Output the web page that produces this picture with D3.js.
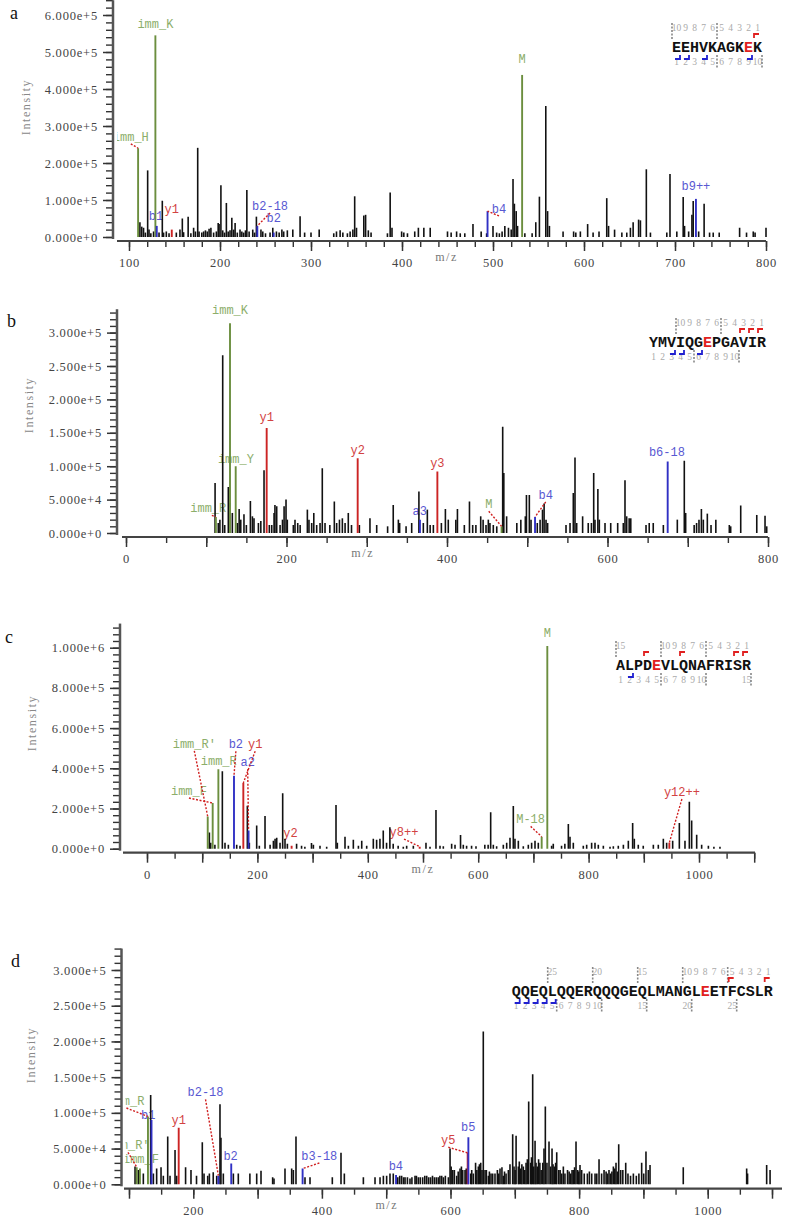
<!DOCTYPE html>
<html>
<head>
<meta charset="utf-8">
<script src="https://cdn.jsdelivr.net/npm/d3@7"></script>
<style>
body { margin: 0; background: #fff; }
svg { display: block; }
</style>
</head>
<body>
<svg id="chart" width="787" height="1218"></svg>
<script>
// ---- panel a : EEHVKAGKEK ----
var pepA = "EEHVKAGKEK", modA = 8, yHitsA = [1], bHitsA = [1, 2, 4, 9];
var yTicksA = [0, 1e5, 2e5, 3e5, 4e5, 5e5, 6e5];
var xTicksA = [100, 200, 300, 400, 500, 600, 700, 800];
var peaksA = [
[112,4.0e4],[114,2.8e4],[116,2.5e4],[118,1.2e4],[120.5,1.8e5],[122,2.0e4],[124,1.0e4],[127,1.5e4],[133,1.2e4],[136.6,9.8e4],[138,1.2e4],[141,1.5e4],[144,1.0e4],[152,1.2e4],[156,2.0e4],[158.6,5.0e4],[160,1.3e4],[165,5.5e4],[168,1.0e4],[171,2.5e4],[173,1.5e4],[175.5,2.41e5],[177,1.5e4],[180,1.2e4],[182,1.5e4],[184,1.8e4],[186,1.5e4],[188,2.2e4],[190,2.5e4],[193,1.2e4],[196,1.5e4],[198,3.8e4],[199,3.5e4],[201,1.4e5],[203,1.8e4],[205,1.2e4],[207,9.2e4],[209,1.5e4],[211,1.8e4],[213,5.2e4],[215,2.0e4],[216.6,3.8e4],[219,1.2e4],[222,2.0e4],[224,1.5e4],[226,1.2e4],[228,1.8e4],[229.5,1.27e5],[232,1.5e4],[236,2.0e4],[238,1.2e4],[240,5.5e4],[245,2.0e4],[247,1.5e4],[250,1.0e4],[255,1.2e4],[258,2.5e4],[262,1.5e4],[265,1.2e4],[268,2.0e4],[270,1.5e4],[274,1.8e4],[280,2.0e4],[288,5.6e4],[293,1.2e4],[300,1.2e4],[309,2.0e4],[325,1.0e4],[328,1.5e4],[332,1.8e4],[335,1.2e4],[340,1.0e4],[343,1.5e4],[346,2.0e4],[348,1.1e5],[350,2.5e4],[358,5.8e4],[360,6.0e4],[363,1.8e4],[366,1.2e4],[384,1.0e4],[387,1.2e5],[389,2.5e4],
[399.6,1.5e4],[402,1.2e4],[406,1.0e4],[414,1.5e4],[418,2.5e4],[424,2.5e4],[431,2.5e4],[450,1.5e4],[454,1.2e4],[460,1.5e4],[464,1.0e4],[469,1.0e4],[478,3.5e4],[487,1.5e4],[493,1.0e4],[500,3.0e4],[504,1.2e4],[507,1.0e4],[510,1.5e4],[513,3.0e4],[517,2.5e4],[520,2.0e4],[522,1.57e5],[523.5,9.0e4],[525.5,7.0e4],[527,3.0e4],[535,1.0e4],[543,1.0e4],[547,4.0e4],[551,1.09e5],[558,3.54e5],[560,7.0e4],[562,3.0e4],[577,1.5e4],[588.6,1.5e4],[591,1.2e4],[596,1.5e4],[604,3.5e4],[610,1.2e4],[616.5,1.5e4],[625,1.05e5],[627,3.0e4],[633.6,2.0e4],[641.6,1.2e4],[647,1.2e4],[651,2.5e4],[654,4.0e4],[660,4.7e4],[662,4.5e4],[668.5,1.83e5],[673,1.2e4],[691,1.2e4],[694.5,1.7e5],[702,1.5e4],[709,1.08e5],[710.5,3.0e4],[715,1.5e4],[718.6,6.0e4],[720,9.7e4],[726,1.5e4],[732,9.0e4],[738,1.2e4],[742,1.2e4],[748.6,1.2e4],[771,2.5e4],[778.6,1.2e4],[786,1.5e4],[788,1.2e4],[800,2.5e4]
];
// [m/z, intensity, label, kind, label m/z, label intensity, leader]
var annA = [
[110, 2.4e5, "imm_H", "g", 102, 2.6e5, 1],
[129, 5.45e5, "imm_K", "g", 129, 5.65e5, 0],
[130.5, 3.0e4, "b1", "b", 129.7, 4.5e4, 0],
[147, 2.0e4, "y1", "y", 147, 6.5e4, 0],
[241, 3.0e4, "b2-18", "b", 255, 7.3e4, 1],
[259, 1.2e4, "b2", "b", 259, 4.0e4, 0],
[494, 7.0e4, "b4", "b", 506.6, 6.5e4, 1],
[532, 4.38e5, "M", "g", 532, 4.7e5, 0],
[723, 1.03e5, "b9++", "b", 723, 1.27e5, 0]
];

// ---- panel b : YMVIQGEPGAVIR ----
var pepB = "YMVIQGEPGAVIR", modB = 6, yHitsB = [1, 2, 3], bHitsB = [3, 4, 6];
var yTicksB = [0, 5e4, 1e5, 1.5e5, 2e5, 2.5e5, 3e5];
var xTicksB = [0, 200, 400, 600, 800];
var peaksB = [
[111,7.5e4],[115,1.5e4],[117,2.0e4],[120.5,2.66e5],[123,1.2e4],[127.5,6.9e4],[132.5,3.0e4],[138.8,1.5e4],[141,3.6e4],[143,2.0e4],[147,2.8e4],[150,1.2e4],[155,4.8e4],[157.5,2.5e4],[159.5,2.2e4],[165,1.5e4],[168,1.8e4],[172,9.4e4],[178.6,1.2e4],[181.6,1.2e4],[184.5,3.0e4],[185.6,4.2e4],[187.8,4.0e4],[192,1.2e4],[195,2.0e4],[197,4.0e4],[199.4,5.0e4],[201,2.0e4],[208.5,1.2e4],[210.6,2.0e4],[214,1.5e4],[217,1.2e4],[226,3.5e4],[228,2.0e4],[231.4,1.5e4],[234,3.0e4],[237.6,1.2e4],[241.8,1.5e4],[244.6,9.7e4],[248,1.5e4],[254,1.2e4],[259.6,4.7e4],[262.5,1.5e4],[266,2.0e4],[269.6,2.2e4],[273,1.5e4],[277,3.0e4],[281,1.2e4],[290.8,1.2e4],[304,2.2e4],[312.4,1.2e4],[326,1.0e4],[333,4.2e4],[339.4,2.0e4],
[341,1.5e4],[349,1.0e4],[356,1.5e4],[365,6.2e4],[370.5,1.5e4],[375.5,3.5e4],[379,1.2e4],[383,1.2e4],[393,1.5e4],[398,3.6e4],[401.6,2.0e4],[411,2.0e4],[413,3.6e4],[421.6,1.2e4],[428,4.7e4],[432,1.2e4],[436,1.2e4],[442,2.5e4],[445,2.0e4],[448.6,1.2e4],[451.5,2.0e4],[453.5,1.5e4],[457.7,1.2e4],[462,1.0e4],[469.4,1.59e5],[470.8,9.0e4],[474.3,2.5e4],[487,1.5e4],[492,2.0e4],[497.6,2.5e4],[499,5.7e4],[502.6,5.7e4],[504.7,2.0e4],[512.5,1.5e4],[516,2.0e4],[519,3.5e4],[521,4.4e4],[523.4,2.0e4],[525.4,1.5e4],[548.3,1.2e4],[553.3,1.5e4],[557.4,6.0e4],[559.5,1.13e5],[561.6,1.5e4],[569,2.5e4],[576,1.5e4],[580,1.5e4],[582.8,9.0e4],[584.4,2.0e4],[588,6.6e4],[589.8,2.0e4],[596.9,1.5e4],[604,1.5e4],[612.7,1.5e4],[619.7,1.5e4],[621.8,7.9e4],[623.9,2.5e4],[627,2.2e4],[629,2.2e4],[648,1.2e4],[652,1.5e4],[657,1.5e4],[669.6,1.2e4],[687,2.0e4],[695.7,1.08e5],[697.4,3.0e4],[708,1.2e4],[711,1.5e4],[714,2.0e4],[717,3.6e4],[719.4,2.0e4],[724.4,2.9e4],[729,1.2e4],[735,2.0e4],[751.8,1.2e4],[753.5,1.0e4],[766,4.1e4],[786,2.7e4],[796.3,2.6e4],[798.4,1.0e4]
];
var annB = [
[112, 2.4e4, "imm_R'", "g", 107, 3.1e4, 1],
[129.6, 3.14e5, "imm_K", "g", 129.6, 3.28e5, 0],
[136.7, 1.0e5, "imm_Y", "g", 137, 1.05e5, 0],
[175.3, 1.57e5, "y1", "y", 175.3, 1.68e5, 0],
[288.7, 1.12e5, "y2", "y", 288.7, 1.18e5, 0],
[366.3, 2.0e4, "a3", "b", 366, 2.7e4, 0],
[388, 9.2e4, "y3", "y", 388, 9.9e4, 0],
[468, 1.0e4, "M", "g", 452, 3.7e4, 1],
[509.7, 2.4e4, "b4", "b", 523, 5.1e4, 1],
[675, 1.07e5, "b6-18", "b", 674, 1.15e5, 0]
];

// ---- panel c : ALPDEVLQNAFRISR ----
var pepC = "ALPDEVLQNAFRISR", modC = 4, yHitsC = [1, 2, 8, 12], bHitsC = [2];
var yTicksC = [0, 2e5, 4e5, 6e5, 8e5, 1e6];
var xTicksC = [0, 200, 400, 600, 800, 1000];
var peaksC = [
[113,8.0e4],[115.4,3.0e4],[123,2.0e4],[136.5,3.85e5],[141.3,3.0e4],[147.4,2.0e4],[162.5,2.0e4],[168.5,1.5e4],[181.8,2.14e5],[185.4,3.0e4],[198.7,1.15e5],[203.5,1.5e4],[213.8,1.63e5],[223,2.0e4],[229,4.0e4],[232,5.0e4],[235,5.5e4],[241,3.0e4],[245.8,2.76e5],[250,5.0e4],[254.3,2.5e4],[271,2.5e4],[280,1.5e4],[286,1.0e4],[298,2.8e4],[301.4,2.0e4],[313.4,1.5e4],[325.5,1.0e4],[342.4,2.17e5],[344.8,3.0e4],[358.7,6.0e4],[364.8,1.5e4],[373.8,4.5e4],[383,1.5e4],[389,4.0e4],[398,1.5e4],[410,5.0e4],[416,4.5e4],[422,5.0e4],[428,9.0e4],[434,3.0e4],[440,1.07e5],[446,2.5e4],[455,1.5e4],
[464.3,1.0e4],[470.4,1.5e4],[482.5,1.5e4],[505.4,3.0e4],[512.7,1.0e4],[523.5,1.93e5],[530.8,1.5e4],[536.8,1.2e4],[551.9,2.5e4],[558,2.0e4],[568,6.8e4],[573,2.0e4],[579,1.5e4],[588,1.5e4],[596,1.2e4],[612,2.0e4],[618,2.0e4],[622.6,1.81e5],[627.4,2.0e4],[633.4,1.2e4],[645.5,2.0e4],[651.6,3.0e4],[657.6,5.5e4],[663.6,2.12e5],[666.6,5.0e4],[672.7,4.0e4],[681.7,1.2e4],[690.8,2.0e4],[696.8,3.0e4],[702.9,4.0e4],[708.9,3.0e4],[733,1.5e4],[736,2.5e4],[751,1.5e4],[757,2.5e4],[763.3,1.23e5],[766.3,6.0e4],[772.3,3.0e4],[790.4,1.5e4],[796.5,2.0e4],[805.5,3.0e4],[811.6,3.0e4],[817.6,2.0e4],[826.7,1.5e4],[838.8,1.0e4],[844.8,1.2e4],[853.8,1.5e4],[863,2.0e4],[872,4.0e4],[879.8,1.28e5],[882.8,5.0e4],[890,2.0e4],[899,1.5e4],[917.3,2.0e4],[926.3,2.0e4],[935.4,5.0e4],[941.4,3.0e4],[952.3,4.0e4],[964.4,1.28e5],[974.6,4.0e4],[982.5,2.34e5],[986.7,1.4e5],[995.8,7.0e4],[1004.8,2.0e4],[1017,1.5e4],[1027,1.0e4],[1038,1.0e4]
];
var annC = [
[110, 1.6e5, "imm_R'", "g", 85.7, 5.02e5, 1],
[119, 2.27e5, "imm_F", "g", 76, 2.67e5, 1],
[129.3, 3.95e5, "imm_R", "g", 130, 4.17e5, 0],
[157.6, 3.63e5, "b2", "b", 161, 5.0e5, 1],
[174.5, 3.27e5, "y1", "y", 196, 5.0e5, 1],
[184, 9.0e4, "a2", "b", 182.4, 4.1e5, 1],
[262, 1.5e4, "y2", "y", 260, 5.8e4, 0],
[494, 1.0e4, "y8++", "y", 465.6, 6.3e4, 1],
[715, 6.0e4, "M-18", "g", 695, 1.26e5, 1],
[725.2, 1.008e6, "M", "g", 725.2, 1.055e6, 0],
[946.3, 3.0e4, "y12++", "y", 969, 2.62e5, 1]
];

// ---- panel d : QQEQLQQERQQQGEQLMANGLEETFCSLR ----
var pepD = "QQEQLQQERQQQGEQLMANGLEETFCSLR", modD = 21, yHitsD = [1, 5], bHitsD = [1, 2, 3, 4, 5];
var yTicksD = [0, 5e4, 1e5, 1.5e5, 2e5, 2.5e5, 3e5];
var xTicksD = [200, 400, 600, 800, 1000];
var peaksD = [
[109.4,2.5e4],[114.5,2.0e4],[122.3,1.5e4],[133.7,1.25e5],[137.9,1.5e4],[143,2.2e4],[149.8,2.4e4],[153.4,1.2e4],[160.2,6.7e4],[163.8,1.2e4],[171.6,4.8e4],[174.2,1.2e4],[188,2.4e4],[196.4,2.0e4],[205,1.2e4],[214,5.9e4],[216.7,1.5e4],[222.4,1.2e4],[225,1.5e4],[231,1.7e4],[236.4,1.2e4],[241.5,1.12e5],[243,6.5e4],[246.7,1.5e4],[262.3,1.5e4],[270,1.5e4],[288,1.5e4],[298.6,1.5e4],[305.3,1.9e4],[323.4,1.0e4],[325.5,8.0e3],[342.6,2.2e4],[353,2.2e4],[355.6,2.0e4],[359.7,6.7e4],[373.7,1.0e4],[381.5,1.0e4],[416.2,1.0e4],[429.7,4.4e4],[434.9,1.5e4],[464.5,1.0e4],[482.6,1.0e4],[490.4,1.0e4],[495.6,1.2e4],[500.7,1.2e4],[505.9,1.5e4],[511,1.5e4],
[518,1.0e4],[521,1.2e4],[524,1.2e4],[527,1.0e4],[529.3,1.0e4],[533,1.0e4],[537,8.0e3],[540,1.0e4],[544.8,1.2e4],[547,1.2e4],[550,1.0e4],[553,1.0e4],[556.7,1.0e4],[560,1.2e4],[563,1.2e4],[566,1.0e4],[569,1.0e4],[572,1.2e4],[575,1.0e4],[578,1.0e4],[581,1.0e4],[583.5,1.2e4],[586.3,1.2e4],[589,1.0e4],[592,1.2e4],[596.7,1.0e4],[599.3,5.0e4],[601,2.5e4],[603.4,2.0e4],[606,2.0e4],[609.6,1.2e4],[612,1.8e4],[614.8,2.2e4],[617,2.5e4],[619,2.0e4],[622.6,2.0e4],[624.5,2.2e4],[631.4,1.5e4],[633,2.0e4],[635.5,1.5e4],[639,3.0e4],[641,2.0e4],[643.3,2.5e4],[645,2.8e4],[647,3.0e4],[649,2.0e4],[651,2.14e5],[653.7,2.0e4],[655.8,2.0e4],[658.9,1.2e4],[660.5,1.8e4],[663,1.5e4],[665.6,1.5e4],[669.2,1.5e4],[672.9,2.0e4],[675,1.5e4],[677,2.2e4],[680,2.4e4],[682.2,1.2e4],[684,1.8e4],[686.4,1.5e4],[690,2.0e4],[692.5,2.8e4],[696.7,7.0e4],[698.8,2.5e4],[700.5,2.0e4],[702,6.8e4],[705.5,2.5e4],[707,3.2e4],[709.2,2.2e4],[711,2.8e4],[713.3,2.5e4],[715.5,2.0e4],[717.5,3.0e4],[719.5,3.5e4],[721.6,1.16e5],[724.7,3.0e4],[726,3.8e4],[727.8,1.54e5],[729.5,2.5e4],[731.5,6.1e4],[733,3.0e4],[735,2.5e4],[737,3.5e4],[739,3.0e4],[741,2.0e4],[743.5,3.0e4],[745.4,5.0e4],[747.5,1.09e5],[750,3.0e4],[753.2,6.0e4],[755.8,2.5e4],[757.9,5.0e4],[759.5,2.8e4],[761.5,2.5e4],[763.5,3.0e4],[765.2,4.5e4],[768.3,2.0e4],[770.5,2.0e4],[773,1.5e4],[775.5,2.5e4],[778,1.5e4],[782,2.0e4],[784.5,1.8e4],[787,1.5e4],[789,2.0e4],[791,2.0e4],[793,2.4e4],[795.2,6.0e4],[797.8,2.0e4],[799.5,1.8e4],[801.4,2.7e4],[804,2.0e4],[808,1.5e4],[812.9,1.5e4],[816,1.8e4],[819.6,1.5e4],[824.8,1.5e4],[827.5,1.5e4],[831,3.5e4],[835,1.5e4],[838.8,2.0e4],[842,1.8e4],[844,1.5e4],[846.5,2.0e4],[849,1.5e4],[851,1.8e4],[853.3,2.5e4],[855.5,2.2e4],[857.4,3.0e4],[859.5,1.8e4],[861.6,5.6e4],[864.7,2.0e4],[868,2.0e4],[872.5,3.0e4],[876,1.5e4],[880,1.2e4],[884.4,1.5e4],[889,1.2e4],[893,1.5e4],[897.3,3.0e4],[900.5,1.5e4],[904,4.6e4],[907.7,2.0e4],[910.3,2.7e4],[962,2.4e4],[1060.6,2.2e4],[1062,1.5e4],[1091.7,2.7e4],[1097,2.0e4]
];
var annD = [
[129.5, 9.5e4, "imm_R", "g", 96, 1.11e5, 1],
[135, 9.0e4, "b1", "b", 130, 9.2e4, 0],
[112, 2.4e4, "imm_R'", "g", 98.4, 4.9e4, 1],
[117, 2.2e4, "imm_F", "g", 118.6, 3.0e4, 0],
[177.3, 7.9e4, "y1", "y", 177.3, 8.5e4, 0],
[239, 1.2e4, "b2-18", "b", 219, 1.23e5, 1],
[259, 2.9e4, "b2", "b", 258, 3.4e4, 0],
[370, 2.2e4, "b3-18", "b", 396, 3.4e4, 1],
[515.3, 1.3e4, "b4", "b", 515, 2.0e4, 0],
[626.7, 4.4e4, "y5", "y", 596.6, 5.6e4, 1],
[627.8, 6.6e4, "b5", "b", 627.6, 7.4e4, 0]
];

var MONO = "'Liberation Mono', 'DejaVu Sans Mono', monospace";
var SERIF = "'Liberation Serif', 'DejaVu Serif', serif";
var peakColor = {g: "#6b8e3e", b: "#3030c4", y: "#cc2424"};
var textColor = {g: "#8cae6a", b: "#5858d2", y: "#d24242"};

var panels = [
  {id: "a", peaks: peaksA, ann: annA, pep: pepA, mod: modA, yHits: yHitsA, bHits: bHitsA,
   yTicks: yTicksA, xTicks: xTicksA, xd: [100, 800], xr: [129, 766], yd: [0, 6e5], yr: [237, 15],
   yTop: 6.4e5, yMinor: 2e4, xRange: [100, 800], xMinor: 20, xMajor: 100,
   axisX: 113, xAxisY: 241, xStart: 117, xEnd: 766, pepX: 672, pepY: 52,
   letter: [10, 19], intens: [27, 107], mz: 449},
  {id: "b", peaks: peaksB, ann: annB, pep: pepB, mod: modB, yHits: yHitsB, bHits: bHitsB,
   yTicks: yTicksB, xTicks: xTicksB, xd: [0, 800], xr: [126, 768], yd: [0, 3e5], yr: [533, 332.6],
   yTop: 3.35e5, yMinor: 1e4, xRange: [0, 800], xMinor: 50, xMajor: 100,
   axisX: 117, xAxisY: 537, xStart: 122, xEnd: 768, pepX: 649, pepY: 347,
   letter: [7, 327], intens: [30, 405], mz: 295},
  {id: "c", peaks: peaksC, ann: annC, pep: pepC, mod: modC, yHits: yHitsC, bHits: bHitsC,
   yTicks: yTicksC, xTicks: xTicksC, xd: [0, 1000], xr: [147, 699], yd: [0, 1e6], yr: [848.7, 647.7],
   yTop: 1.12e6, yMinor: 2e5 / 6, xRange: [0, 1100], xMinor: 50, xMajor: 100,
   axisX: 120, xAxisY: 852.7, xStart: 123, xEnd: 755, pepX: 616, pepY: 670,
   letter: [5, 643], intens: [33, 723], mz: 500},
  {id: "d", peaks: peaksD, ann: annD, pep: pepD, mod: modD, yHits: yHitsD, bHits: bHitsD,
   yTicks: yTicksD, xTicks: xTicksD, xd: [200, 1000], xr: [193.3, 707.7], yd: [0, 3e5], yr: [1184.3, 970],
   yTop: 3.3e5, yMinor: 1e4, xRange: [100, 1100], xMinor: 50, xMajor: 100,
   axisX: 121.5, xAxisY: 1188.7, xStart: 124, xEnd: 782, pepX: 511.7, pepY: 996,
   letter: [11, 967], intens: [32, 1055], mz: 501}
];

var svg = d3.select("#chart");
svg.append("rect").attr("width", 787).attr("height", 1218).attr("fill", "#fff");
var defs = svg.append("defs");

panels.forEach(function(p) {
  var x = d3.scaleLinear().domain(p.xd).range(p.xr);
  var y = d3.scaleLinear().domain(p.yd).range(p.yr);
  var g = svg.append("g").attr("class", "panel-" + p.id);

  // panel letter
  g.append("text")
    .attr("x", p.letter[0]).attr("y", p.letter[1])
    .attr("font-family", SERIF).attr("font-size", 18).attr("fill", "#111")
    .text(p.id);

  // y axis: minor + major ticks
  var minorY = d3.range(0, p.yTop + 1, p.yMinor);
  g.append("g")
    .attr("transform", "translate(" + p.axisX + ",0)")
    .call(d3.axisLeft(y).tickValues(minorY).tickSize(7).tickFormat(""))
    .call(function(s) { s.select(".domain").remove(); })
    .selectAll("line").attr("stroke", "#333").attr("stroke-width", 1.4);

  var yAx = g.append("g")
    .attr("transform", "translate(" + p.axisX + ",0)")
    .call(d3.axisLeft(y).tickValues(p.yTicks).tickSize(10).tickPadding(5).tickFormat(d3.format(".3e")));
  yAx.select(".domain").remove();
  yAx.selectAll("line").attr("stroke", "#333").attr("stroke-width", 1.5);
  yAx.selectAll("text").attr("font-family", SERIF).attr("font-size", 12.5)
    .attr("letter-spacing", 0.8).attr("fill", "#444");

  g.append("line")
    .attr("x1", p.axisX).attr("x2", p.axisX)
    .attr("y1", y(p.yTop)).attr("y2", y(0) + 2)
    .attr("stroke", "#555").attr("stroke-width", 2.5);

  // x axis
  var minorX = d3.range(p.xRange[0], p.xRange[1] + 1, p.xMinor);
  var majorX = d3.range(p.xRange[0], p.xRange[1] + 1, p.xMajor);
  var xg = g.append("g").attr("transform", "translate(0," + p.xAxisY + ")");
  xg.append("g")
    .call(d3.axisBottom(x).tickValues(minorX).tickSize(6).tickFormat(""))
    .call(function(s) { s.select(".domain").remove(); })
    .selectAll("line").attr("stroke", "#333").attr("stroke-width", 1.4);
  var xAx = xg.append("g")
    .call(d3.axisBottom(x).tickValues(majorX).tickSize(10).tickPadding(7)
      .tickFormat(function(d) { return p.xTicks.indexOf(d) >= 0 ? d : ""; }));
  xAx.select(".domain").remove();
  xAx.selectAll("line").attr("stroke", "#333").attr("stroke-width", 1.5);
  xAx.selectAll("text").attr("font-family", SERIF).attr("font-size", 12.5)
    .attr("letter-spacing", 0.8).attr("fill", "#444");
  xg.append("line")
    .attr("x1", p.xStart).attr("x2", p.xEnd).attr("y1", 0).attr("y2", 0)
    .attr("stroke", "#444").attr("stroke-width", 2.2);

  // axis titles
  g.append("text")
    .attr("transform", "translate(" + p.intens[0] + "," + p.intens[1] + ") rotate(-90)")
    .attr("text-anchor", "middle").attr("dominant-baseline", "middle")
    .attr("font-family", SERIF).attr("font-size", 12).attr("fill", "#888")
    .attr("letter-spacing", 1.6)
    .text("Intensity");
  g.append("text")
    .attr("x", x(p.mz)).attr("y", p.xAxisY + 20)
    .attr("text-anchor", "middle")
    .attr("font-family", SERIF).attr("font-size", 12).attr("fill", "#777")
    .attr("letter-spacing", 1.6)
    .text("m/z");

  // clipped plot area
  defs.append("clipPath").attr("id", "clip-" + p.id)
    .append("rect")
    .attr("x", p.axisX + 4).attr("y", p.yr[1] - 40)
    .attr("width", 787 - p.axisX).attr("height", p.xAxisY - p.yr[1] + 38);
  var plot = g.append("g").attr("clip-path", "url(#clip-" + p.id + ")");

  // labels
  plot.selectAll("text.ion")
    .data(p.ann).enter().append("text")
    .attr("class", "ion")
    .attr("x", function(d) { return x(d[4]); })
    .attr("y", function(d) { return y(d[5]); })
    .attr("text-anchor", "middle")
    .attr("font-family", MONO).attr("font-size", 12)
    .attr("fill", function(d) { return textColor[d[3]]; })
    .text(function(d) { return d[2]; });

  // unassigned peaks
  plot.selectAll("line.pk")
    .data(p.peaks).enter().append("line")
    .attr("class", "pk")
    .attr("x1", function(d) { return x(d[0]); }).attr("x2", function(d) { return x(d[0]); })
    .attr("y1", y(0)).attr("y2", function(d) { return y(d[1]); })
    .attr("stroke", "#111").attr("stroke-width", 1.6);

  // assigned peaks
  plot.selectAll("line.ann")
    .data(p.ann).enter().append("line")
    .attr("class", "ann")
    .attr("x1", function(d) { return x(d[0]); }).attr("x2", function(d) { return x(d[0]); })
    .attr("y1", y(0)).attr("y2", function(d) { return y(d[1]); })
    .attr("stroke", function(d) { return peakColor[d[3]]; }).attr("stroke-width", 1.9);

  // leaders
  plot.selectAll("line.lead")
    .data(p.ann.filter(function(d) { return d[6]; })).enter().append("line")
    .attr("class", "lead")
    .attr("x1", function(d) { return x(d[4]); }).attr("y1", function(d) { return y(d[5]) + 3; })
    .attr("x2", function(d) { return x(d[0]); }).attr("y2", function(d) { return y(d[1]); })
    .attr("stroke", "#d02020").attr("stroke-width", 1.4).attr("stroke-dasharray", "2,1.6");

  drawPeptide(g, p);
});

function drawPeptide(g, p) {
  var cw = 9, n = p.pep.length, x0 = p.pepX, base = p.pepY;
  var pg = g.append("g").attr("class", "peptide");
  var chars = p.pep.split("");
  pg.selectAll("text.aa")
    .data(chars).enter().append("text")
    .attr("class", "aa")
    .attr("x", function(d, i) { return x0 + (i + 0.5) * cw; })
    .attr("y", base)
    .attr("text-anchor", "middle")
    .attr("font-family", MONO).attr("font-weight", "bold").attr("font-size", 15)
    .attr("fill", function(d, i) { return i === p.mod ? "#e02020" : "#111"; })
    .text(function(d) { return d; });

  var ks = d3.range(1, n + 1).filter(function(k) { return k <= 10 || k % 5 === 0; });
  // y-ion numbering (from the right, above)
  pg.selectAll("text.ynum")
    .data(ks).enter().append("text")
    .attr("x", function(k) { return x0 + (n - k + 0.5) * cw; })
    .attr("y", base - 21)
    .attr("text-anchor", "middle")
    .attr("font-family", SERIF).attr("font-size", 9.5).attr("fill", "#aaa")
    .text(function(k) { return k; });
  // b-ion numbering (from the left, below)
  pg.selectAll("text.bnum")
    .data(ks).enter().append("text")
    .attr("x", function(k) { return x0 + (k - 0.5) * cw; })
    .attr("y", base + 13)
    .attr("text-anchor", "middle")
    .attr("font-family", SERIF).attr("font-size", 9.5).attr("fill", "#aaa")
    .text(function(k) { return k; });

  var fives = d3.range(5, n + 1, 5);
  fives.forEach(function(k) {
    pg.append("line")
      .attr("x1", x0 + (n - k) * cw).attr("x2", x0 + (n - k) * cw)
      .attr("y1", base - 29).attr("y2", base - 12)
      .attr("stroke", "#888").attr("stroke-width", 1.6).attr("stroke-dasharray", "2,1.5");
    pg.append("line")
      .attr("x1", x0 + k * cw).attr("x2", x0 + k * cw)
      .attr("y1", base + 3).attr("y2", base + 16)
      .attr("stroke", "#888").attr("stroke-width", 1.6).attr("stroke-dasharray", "2,1.5");
  });

  p.yHits.forEach(function(k) {
    var xx = x0 + (n - k) * cw + 1;
    pg.append("path")
      .attr("d", "M" + xx + "," + (base - 14) + "V" + (base - 18) + "H" + (xx + 5))
      .attr("fill", "none").attr("stroke", "#e02020").attr("stroke-width", 1.8);
  });
  p.bHits.forEach(function(k) {
    var xx = x0 + k * cw - 1;
    pg.append("path")
      .attr("d", "M" + xx + "," + (base + 3) + "V" + (base + 7) + "H" + (xx - 5))
      .attr("fill", "none").attr("stroke", "#2020d0").attr("stroke-width", 1.8);
  });
}
</script>
</body>
</html>
